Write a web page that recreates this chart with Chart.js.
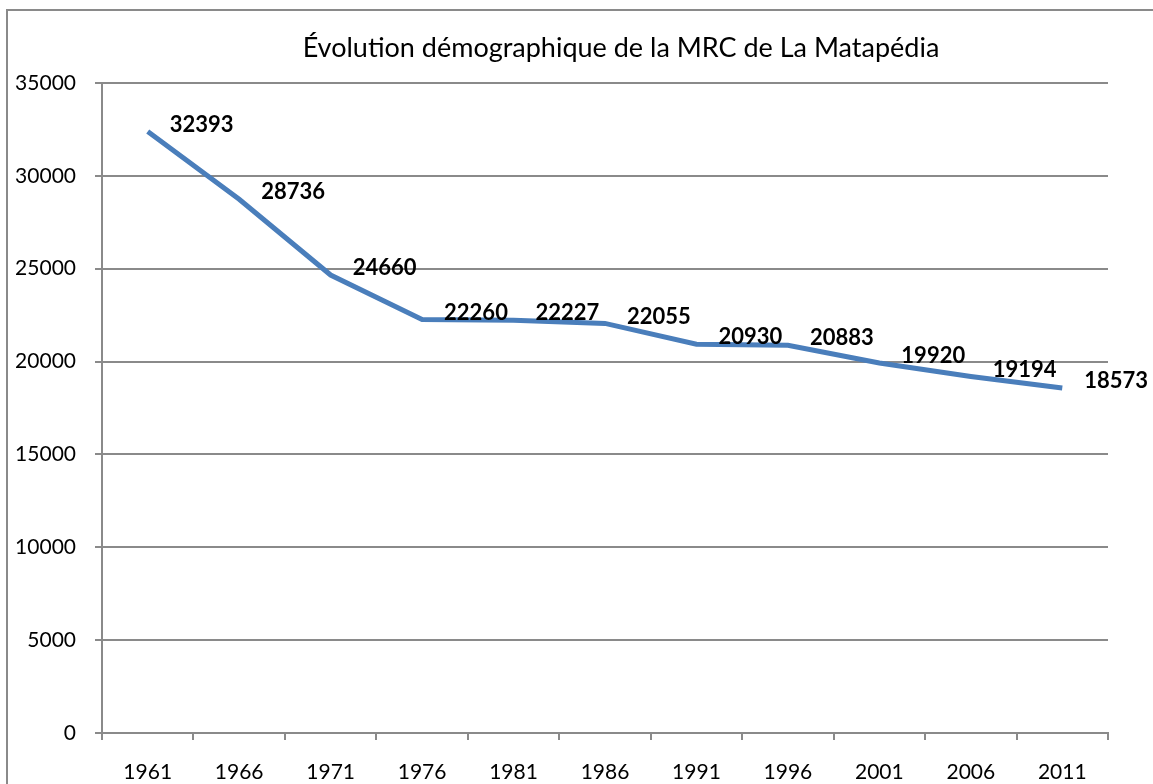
<!DOCTYPE html>
<html>
<head>
<meta charset="utf-8">
<title>Évolution démographique de la MRC de La Matapédia</title>
<script src="https://cdn.jsdelivr.net/npm/chart.js@4.4.0/dist/chart.umd.min.js"></script>
<style>
    html, body { margin: 0; padding: 0; background: #fff; overflow: hidden; }
    #wrap { position: relative; width: 1153px; height: 784px; }
    #frame {
        position: absolute; left: 6px; top: 9px; width: 1200px; height: 800px;
        border-left: 2px solid #8a8a8a; border-top: 2px solid #8a8a8a;
    }
    canvas { position: absolute; left: 0; top: 0; }
</style>
</head>
<body>
<div id="wrap">
    <div id="frame"></div>
    <canvas id="chart" width="1153" height="784"></canvas>
</div>
<script>
// Chart data
const chartTitle = 'Évolution démographique de la MRC de La Matapédia';
const years = ['1961', '1966', '1971', '1976', '1981', '1986', '1991', '1996', '2001', '2006', '2011'];
const population = [32393, 28736, 24660, 22260, 22227, 22055, 20930, 20883, 19920, 19194, 18573];
const yTicks = [0, 5000, 10000, 15000, 20000, 25000, 30000, 35000];

const gridGray = '#8a8a8a';

// Title drawn centred over the plot area like the original
const titlePlugin = {
    id: 'chartTitle',
    afterDraw(chart) {
        const ctx = chart.ctx;
        ctx.save();
        ctx.font = '27px Lato, sans-serif';
        ctx.fillStyle = '#000';
        ctx.textAlign = 'center';
        ctx.textBaseline = 'alphabetic';
        ctx.fillText(chartTitle, 621, 57);
        ctx.restore();
    }
};

// Value labels to the right of each point
const valueLabels = {
    id: 'valueLabels',
    afterDatasetsDraw(chart) {
        const ctx = chart.ctx;
        const meta = chart.getDatasetMeta(0);
        ctx.save();
        ctx.font = 'bold 22px Lato, sans-serif';
        ctx.fillStyle = '#000';
        ctx.textAlign = 'left';
        ctx.textBaseline = 'middle';
        meta.data.forEach(function(pt, i) {
            ctx.fillText(String(population[i]), pt.x + 22, pt.y - 7);
        });
        ctx.restore();
    }
};

const ctx = document.getElementById('chart').getContext('2d');

new Chart(ctx, {
    type: 'line',
    data: {
        labels: years,
        datasets: [{
            label: 'Population',
            data: population,
            borderColor: '#4a7ebb',
            borderWidth: 5,
            pointRadius: 0,
            pointHoverRadius: 0,
            fill: false,
            tension: 0
        }]
    },
    options: {
        responsive: false,
        animation: false,
        events: [],
        layout: {
            padding: { top: 83, right: 45, bottom: 0, left: 0 }
        },
        plugins: {
            legend: { display: false },
            tooltip: { enabled: false },
            title: { display: false }
        },
        scales: {
            x: {
                offset: true,
                grid: {
                    offset: true,
                    drawOnChartArea: false,
                    drawTicks: true,
                    tickLength: 7,
                    color: gridGray,
                    lineWidth: 2
                },
                border: { color: gridGray, width: 2 },
                ticks: {
                    color: '#000',
                    padding: 20,
                    maxRotation: 0,
                    font: { family: 'Lato, sans-serif', size: 21 }
                },
                afterFit(scale) { scale.height = 51; }
            },
            y: {
                min: 0,
                max: 35000,
                afterBuildTicks(scale) {
                    scale.ticks = yTicks.map(v => ({ value: v }));
                },
                grid: {
                    color: gridGray,
                    lineWidth: 2,
                    tickLength: 7
                },
                border: { color: gridGray, width: 2 },
                ticks: {
                    color: '#000',
                    padding: 19,
                    font: { family: 'Lato, sans-serif', size: 21 },
                    callback: function(value) { return String(value); }
                },
                afterFit(scale) { scale.width = 102; }
            }
        }
    },
    plugins: [valueLabels, titlePlugin]
});
</script>
</body>
</html>
